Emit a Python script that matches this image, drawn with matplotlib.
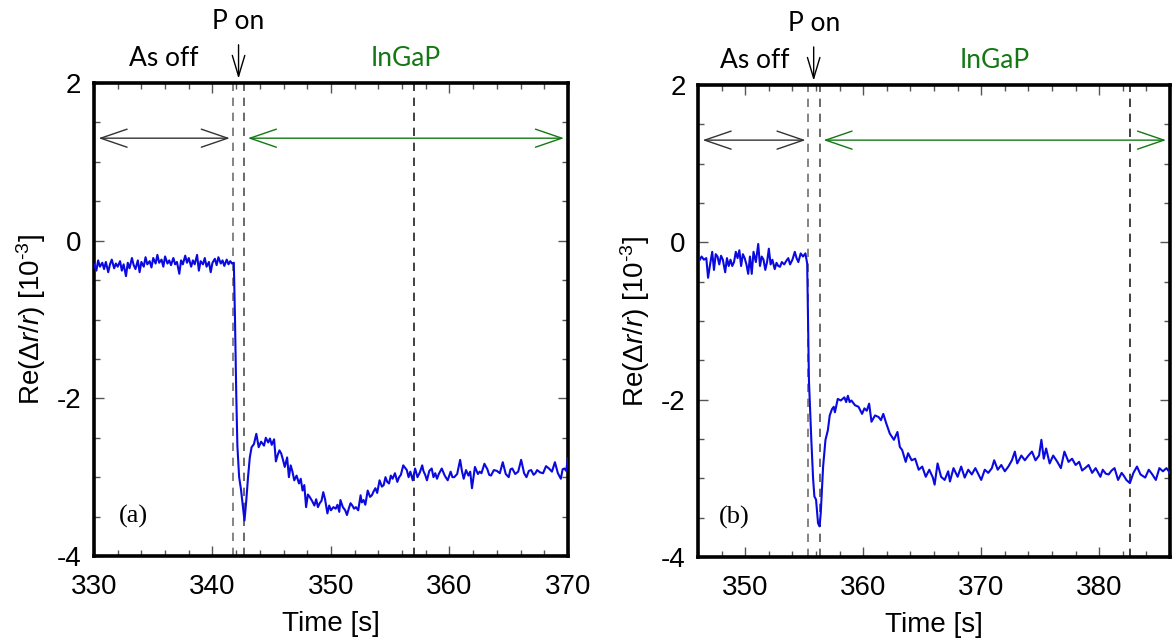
import matplotlib
matplotlib.use("Agg")
import matplotlib.pyplot as plt
from matplotlib.ticker import MultipleLocator

plt.rcParams['font.family'] = ['Liberation Sans', 'DejaVu Sans']
plt.rcParams['axes.unicode_minus'] = False
plt.rcParams['mathtext.fontset'] = 'custom'
plt.rcParams['mathtext.rm'] = 'Liberation Sans'
plt.rcParams['mathtext.it'] = 'Liberation Sans:italic'

# ---------------- data: panel (a) ----------------
time_a = [330.0, 330.2, 330.35, 330.5, 330.7, 330.85, 331.0, 331.2, 331.35, 331.5, 331.7, 331.85,
          332.0, 332.2, 332.35, 332.5, 332.7, 332.85, 333.0, 333.2, 333.35, 333.5, 333.7, 333.85,
          334.0, 334.2, 334.35, 334.5, 334.7, 334.85, 335.0, 335.2, 335.35, 335.5, 335.7, 335.85,
          336.0, 336.2, 336.35, 336.5, 336.7, 336.85, 337.0, 337.2, 337.35, 337.5, 337.7, 337.85,
          338.0, 338.2, 338.35, 338.5, 338.7, 338.85, 339.0, 339.2, 339.35, 339.5, 339.7, 339.85,
          340.0, 340.2, 340.35, 340.5, 340.7, 340.85, 341.0, 341.2, 341.35, 341.5, 341.65, 341.8,
          341.9, 342.0, 342.1, 342.25, 342.4, 342.55, 342.7, 342.85, 343.0, 343.15, 343.3,
          343.5, 343.7, 343.9, 344.1, 344.35, 344.5, 344.7, 344.85, 345.0, 345.2, 345.35, 345.5,
          345.65, 345.8, 345.95, 346.1, 346.3, 346.45, 346.6, 346.75, 346.9, 347.1, 347.3, 347.45,
          347.6, 347.75, 347.9, 348.05, 348.2, 348.4, 348.6, 348.75, 348.9, 349.05, 349.2, 349.35,
          349.5, 349.7, 349.85, 350.0, 350.2, 350.4, 350.55, 350.7, 350.8, 351.0, 351.2, 351.35,
          351.5, 351.65, 351.8, 351.95, 352.1, 352.3, 352.5, 352.6, 352.75, 352.9, 353.1, 353.3,
          353.45, 353.6, 353.75, 353.9, 354.1, 354.3, 354.45, 354.6, 354.75, 354.9, 355.05, 355.2,
          355.4, 355.6, 355.75, 355.9, 356.1, 356.4, 356.55, 356.7, 356.9, 357.1, 357.3, 357.5,
          357.7, 357.8, 357.95, 358.1, 358.3, 358.5, 358.65, 358.8, 358.95, 359.1, 359.35, 359.6,
          359.85, 360.1, 360.25, 360.4, 360.65, 360.9, 361.05, 361.2, 361.4, 361.6, 361.75, 361.9,
          362.15, 362.4, 362.55, 362.7, 362.95, 363.2, 363.35, 363.5, 363.75, 364.0, 364.25, 364.5,
          364.75, 365.0, 365.15, 365.3, 365.55, 365.8, 366.05, 366.3, 366.5, 366.7, 366.9, 367.1,
          367.25, 367.4, 367.65, 367.9, 368.15, 368.4, 368.65, 368.9, 369.15, 369.4, 369.55, 369.7,
          369.85, 370.0]
value_a = [-0.30, -0.38, -0.25, -0.33, -0.28, -0.36, -0.27, -0.40, -0.30, -0.24, -0.35, -0.29,
           -0.33, -0.26, -0.38, -0.30, -0.45, -0.28, -0.35, -0.22, -0.31, -0.36, -0.25, -0.40,
           -0.27, -0.33, -0.21, -0.30, -0.26, -0.34, -0.22, -0.29, -0.18, -0.28, -0.24, -0.33,
           -0.20, -0.29, -0.25, -0.31, -0.22, -0.30, -0.27, -0.42, -0.25, -0.30, -0.19, -0.28,
           -0.22, -0.33, -0.25, -0.30, -0.18, -0.38, -0.26, -0.30, -0.22, -0.33, -0.27, -0.40,
           -0.28, -0.23, -0.31, -0.21, -0.29, -0.25, -0.32, -0.24, -0.30, -0.26, -0.29, -0.28,
           -1.00, -1.90, -2.60, -3.00, -3.15, -3.35, -3.55, -3.30, -3.00, -2.75, -2.62,
           -2.58, -2.45, -2.62, -2.55, -2.60, -2.50, -2.56, -2.51, -2.59, -2.52, -2.80, -2.72,
           -2.66, -2.70, -2.78, -2.87, -2.75, -3.00, -2.85, -2.93, -3.04, -2.98, -3.08, -3.02,
           -3.17, -3.10, -3.38, -3.22, -3.25, -3.30, -3.36, -3.28, -3.38, -3.33, -3.30, -3.19,
           -3.28, -3.46, -3.36, -3.42, -3.38, -3.40, -3.35, -3.44, -3.29, -3.38, -3.42, -3.48,
           -3.40, -3.33, -3.36, -3.40, -3.38, -3.42, -3.23, -3.32, -3.29, -3.35, -3.17, -3.25,
           -3.23, -3.18, -3.14, -3.20, -3.04, -3.12, -3.10, -3.00, -3.06, -3.08, -2.98, -3.02,
           -2.95, -3.06, -3.00, -2.97, -2.85, -2.91, -3.00, -2.93, -3.04, -2.89, -3.00, -2.94,
           -2.85, -2.92, -2.97, -3.04, -2.92, -2.89, -3.00, -2.95, -3.02, -2.96, -2.89, -2.98,
           -3.04, -2.93, -3.00, -3.00, -2.96, -2.78, -2.92, -3.02, -2.91, -2.98, -2.93, -3.14,
           -2.87, -2.96, -2.93, -2.95, -2.83, -2.90, -2.97, -2.98, -2.91, -2.92, -2.95, -2.81,
           -2.96, -3.00, -2.90, -2.89, -2.96, -2.93, -2.78, -2.95, -3.00, -2.92, -2.91, -2.97,
           -2.95, -2.91, -2.94, -2.95, -2.86, -2.89, -2.93, -2.81, -2.95, -3.02, -2.90, -2.89,
           -2.92, -2.76]

# ---------------- data: panel (b) ----------------
time_b = [346.15, 346.3, 346.5, 346.7, 346.85, 347.0, 347.2, 347.35, 347.5, 347.65, 347.8, 347.95,
          348.1, 348.3, 348.45, 348.6, 348.75, 348.9, 349.05, 349.2, 349.35, 349.5, 349.65, 349.8,
          349.95, 350.1, 350.25, 350.4, 350.55, 350.7, 350.9, 351.1, 351.25, 351.4, 351.55, 351.7,
          351.85, 352.0, 352.15, 352.3, 352.5, 352.65, 352.8, 352.95, 353.1, 353.3, 353.5, 353.65,
          353.8, 354.0, 354.2, 354.35, 354.5, 354.7, 354.9, 355.1, 355.25,
          355.4, 355.6, 355.75, 355.86, 356.0, 356.17, 356.3, 356.4, 356.6, 356.8, 357.0, 357.16,
          357.35, 357.5, 357.6, 357.84, 358.1, 358.4, 358.55, 358.7, 358.85, 359.0, 359.3, 359.6,
          359.9, 360.1, 360.3, 360.5, 360.7, 361.0, 361.3, 361.5, 361.7, 361.95, 362.25, 362.6,
          362.9, 363.1, 363.3, 363.6, 363.8, 364.1, 364.4, 364.7, 365.0, 365.3, 365.6, 365.9,
          366.05, 366.3, 366.6, 366.9, 367.2, 367.35, 367.65, 368.0, 368.3, 368.6, 368.9, 369.2,
          369.5, 370.0, 370.3, 370.6, 370.9, 371.1, 371.4, 371.7, 372.0, 372.3, 372.6, 372.85,
          373.05, 373.4, 373.7, 374.0, 374.3, 374.6, 374.9, 375.1, 375.3, 375.5, 375.8, 376.1,
          376.45, 376.75, 377.05, 377.4, 377.7, 378.0, 378.3, 378.55, 378.8, 379.1, 379.4, 379.7,
          380.1, 380.3, 380.55, 380.8, 381.05, 381.3, 381.6, 381.9, 382.1, 382.3, 382.6, 382.9,
          383.2, 383.5, 383.9, 384.2, 384.5, 384.8, 385.1, 385.4, 385.7, 386.0]
value_b = [-0.22, -0.18, -0.22, -0.20, -0.45, -0.30, -0.12, -0.35, -0.15, -0.18, -0.28, -0.17,
           -0.22, -0.38, -0.20, -0.30, -0.22, -0.30, -0.25, -0.12, -0.20, -0.10, -0.30, -0.15,
           -0.20, -0.28, -0.40, -0.18, -0.40, -0.12, -0.25, -0.02, -0.30, -0.18, -0.22, -0.35,
           -0.25, -0.08, -0.28, -0.22, -0.34, -0.26, -0.30, -0.31, -0.25, -0.28, -0.23, -0.20,
           -0.28, -0.22, -0.12, -0.20, -0.25, -0.14, -0.18, -0.14, -0.27,
           -1.76, -2.51, -3.00, -3.23, -3.27, -3.57, -3.61, -3.44, -2.85, -2.51, -2.39, -2.20,
           -2.12, -2.09, -2.16, -1.99, -2.01, -1.97, -2.03, -1.95, -2.03, -2.01, -2.07, -2.09,
           -2.18, -2.11, -2.14, -2.05, -2.28, -2.20, -2.22, -2.26, -2.18, -2.30, -2.43, -2.51,
           -2.41, -2.60, -2.64, -2.79, -2.68, -2.77, -2.75, -2.89, -2.85, -2.98, -2.89, -2.99,
           -3.08, -2.81, -2.98, -3.02, -2.91, -3.04, -2.87, -2.98, -2.85, -2.99, -2.89, -2.95,
           -2.87, -3.02, -2.89, -2.93, -2.87, -2.77, -2.89, -2.83, -2.91, -2.85, -2.77, -2.66,
           -2.81, -2.71, -2.77, -2.71, -2.66, -2.77, -2.71, -2.51, -2.75, -2.62, -2.81, -2.71,
           -2.79, -2.87, -2.66, -2.79, -2.75, -2.83, -2.79, -2.90, -2.87, -2.83, -2.93, -2.87,
           -2.98, -2.89, -2.94, -2.95, -2.90, -2.87, -3.02, -2.93, -2.97, -3.02, -3.06, -2.93,
           -2.85, -2.95, -2.99, -2.89, -2.95, -3.02, -2.87, -2.91, -2.87, -2.93]

# ---------------- annotation values ----------------
panels = [
    dict(t=time_a, v=value_a, xlim=(330, 370), xticks=[330, 340, 350, 360, 370],
         vlines=[341.7, 342.7, 357.0], pon=342.2, asoff_x=335.9, ingap_x=356.3,
         black_arrow=(330.15, 341.7), green_arrow=(342.75, 369.9), tag='(a)', tag_x=333.3,
         pos=[0.0802, 0.1353, 0.4044, 0.7356]),
    dict(t=time_b, v=value_b, xlim=(346, 386), xticks=[350, 360, 370, 380],
         vlines=[355.3, 356.3, 382.6], pon=355.8, asoff_x=350.8, ingap_x=371.1,
         black_arrow=(346.15, 355.35), green_arrow=(356.4, 385.9), tag='(b)', tag_x=349.1,
         pos=[0.5956, 0.1337, 0.4027, 0.7340]),
]

fig = plt.figure(figsize=(11.72, 6.43), dpi=100)
green = '#137813'
ann_font = ['Lato', 'DejaVu Sans']
head = '<->,head_length=1.9,head_width=0.65'

for p in panels:
    ax = fig.add_axes(p['pos'])
    ax.plot(p['t'], p['v'], color='#0a0ae0', lw=1.5, zorder=3)
    ax.set_xlim(*p['xlim'])
    ax.set_ylim(-4, 2)
    ax.set_xticks(p['xticks'])
    ax.set_yticks([-4, -2, 0, 2])
    ax.xaxis.set_minor_locator(MultipleLocator(2))
    ax.yaxis.set_minor_locator(MultipleLocator(0.5))
    ax.tick_params(which='both', direction='in', top=True, right=True, color='#555555')
    ax.tick_params(which='major', length=7, width=1.0, labelsize=20)
    ax.tick_params(which='minor', length=4, width=1.0)
    ax.tick_params(axis='x', which='major', pad=13)
    ax.tick_params(axis='y', which='major', pad=9)
    for s in ax.spines.values():
        s.set_linewidth(2.6)
    for xv, c in zip(p['vlines'], ['#707070', '#505050', '#202020']):
        ax.axvline(xv, color=c, lw=1.2, ls=(0, (5, 4)), zorder=2)
    ax.set_xlabel('Time [s]', fontsize=20, labelpad=8)
    ax.set_ylabel(r'Re($\mathit{\Delta r/r}$) [10$^{\text{-}3}$]', fontsize=20, labelpad=6)

    ax.annotate('', xy=(p['black_arrow'][0], 1.3), xytext=(p['black_arrow'][1], 1.3),
                arrowprops=dict(arrowstyle=head, color='#333333', lw=1.0),
                annotation_clip=False)
    ax.annotate('', xy=(p['green_arrow'][0], 1.3), xytext=(p['green_arrow'][1], 1.3),
                arrowprops=dict(arrowstyle=head, color=green, lw=1.0),
                annotation_clip=False)
    ax.annotate('', xy=(p['pon'], 2.02), xytext=(p['pon'], 2.52),
                arrowprops=dict(arrowstyle='->,head_length=1.5,head_width=0.45', color='black', lw=1.0),
                annotation_clip=False)
    ax.text(p['pon'], 2.78, 'P on', ha='center', va='center', fontsize=19, family=ann_font)
    ax.text(p['asoff_x'], 2.31, 'As off', ha='center', va='center', fontsize=19, family=ann_font)
    ax.text(p['ingap_x'], 2.31, 'InGaP', ha='center', va='center', fontsize=19, family=ann_font,
            color=green)
    ax.text(p['tag_x'], -3.5, p['tag'], ha='center', va='center', fontsize=19,
            family=['Liberation Serif', 'DejaVu Serif'])

fig.savefig('out.png', dpi=100)
